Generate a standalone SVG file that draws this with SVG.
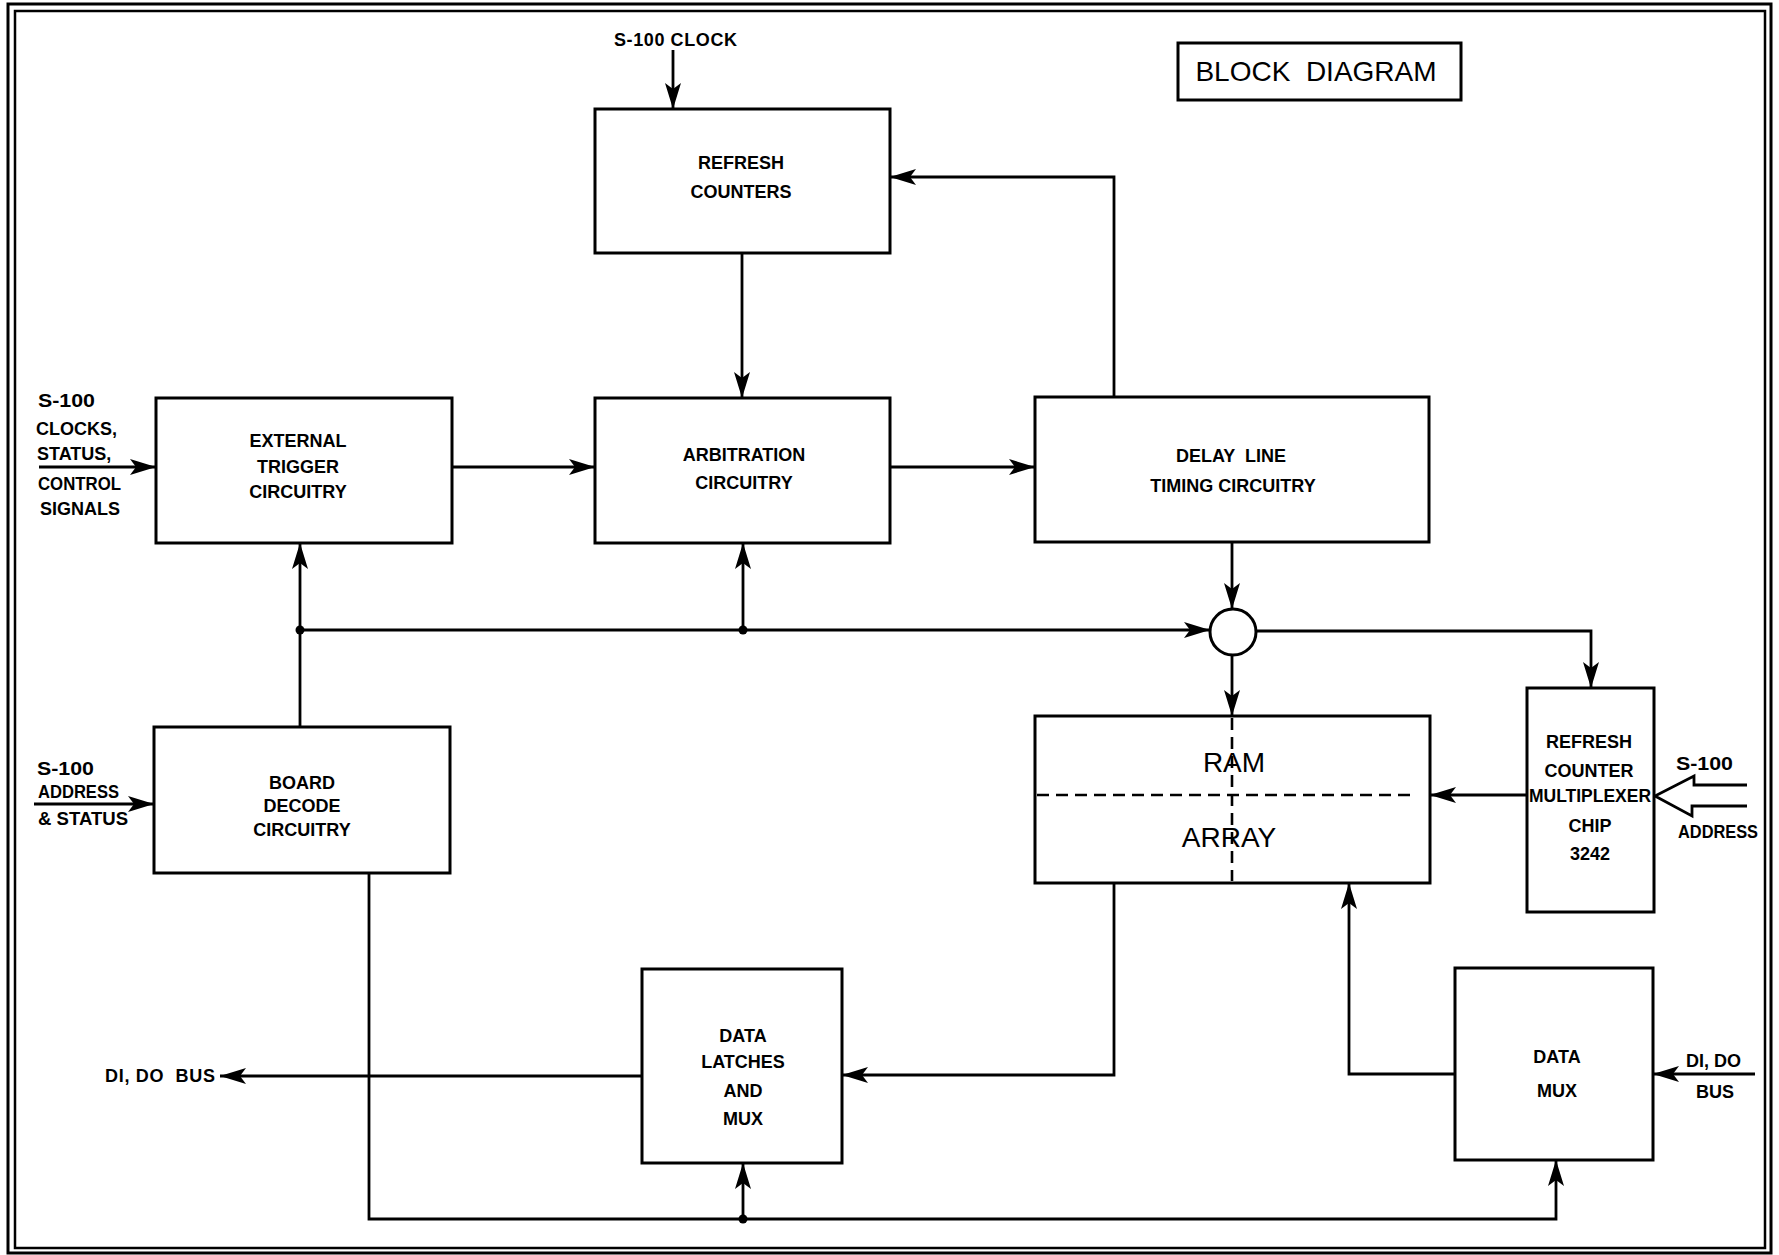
<svg xmlns="http://www.w3.org/2000/svg" width="1779" height="1255" viewBox="0 0 1779 1255">
<style>
.box{fill:#fff;stroke:#000;stroke-width:3}
.ln{fill:none;stroke:#000;stroke-width:2.8}
.arr{marker-end:url(#ah)}
.dash{fill:none;stroke:#000;stroke-width:2.6;stroke-dasharray:12 7}
.lb{font-family:"Liberation Sans",Arial,sans-serif;font-weight:bold;font-size:18px;fill:#000}
.c{text-anchor:middle}
.big{font-family:"Liberation Sans",Arial,sans-serif;font-size:28px;fill:#000}
.dot{fill:#000}
</style>
<defs>
<marker id="ah" markerUnits="userSpaceOnUse" markerWidth="28" markerHeight="20" refX="26" refY="10" orient="auto">
<path d="M0,2 L26,10 L0,18 L6,10 z" fill="#000"/>
</marker>
</defs>
<rect x="0" y="0" width="1779" height="1255" fill="#fff"/>
<g id="border">
<rect x="8" y="4" width="1763" height="1249" fill="none" stroke="#000" stroke-width="3"/>
<rect x="15" y="11" width="1750" height="1237" fill="none" stroke="#000" stroke-width="2.5"/>
</g>
<g id="title">
<rect class="box" x="1178" y="43" width="283" height="57"/>
<text class="big c" x="1316" y="81" xml:space="preserve">BLOCK  DIAGRAM</text>
</g>
<g id="connectors">
<path class="ln arr" d="M673,50 V109"/>
<path class="ln arr" d="M742,253 V398"/>
<path class="ln arr" d="M1114,397 V177 H890"/>
<path class="ln arr" d="M39,467 H156"/>
<path class="ln arr" d="M452,467 H595"/>
<path class="ln arr" d="M890,467 H1035"/>
<path class="ln arr" d="M300,727 V543"/>
<path class="ln arr" d="M300,630 H1210"/>
<path class="ln arr" d="M743,630 V543"/>
<path class="ln arr" d="M1232,542 V609"/>
<path class="ln arr" d="M1232,655 V716"/>
<path class="ln arr" d="M1256,631 H1591 V688"/>
<path class="ln arr" d="M1527,795 H1430"/>
<path class="ln arr" d="M34,804 H154"/>
<path class="ln arr" d="M369,873 V1219 H1556 V1160"/>
<path class="ln arr" d="M743,1219 V1163"/>
<path class="ln arr" d="M1114,883 V1075 H842"/>
<path class="ln arr" d="M642,1076 H220"/>
<path class="ln arr" d="M1455,1074 H1349 V883"/>
<path class="ln arr" d="M1755,1074 H1653"/>
<path class="ln" d="M1747,785 H1694 V776 L1655,796 L1692,816 V806 H1747"/>
<circle class="dot" cx="300" cy="630" r="4.5"/>
<circle class="dot" cx="743" cy="630" r="4.5"/>
<circle class="dot" cx="743" cy="1219" r="4.5"/>
</g>
<g id="refresh-counters">
<rect class="box" x="595" y="109" width="295" height="144"/>
<text class="lb c" x="741" y="169">REFRESH</text>
<text class="lb c" x="741" y="198">COUNTERS</text>
</g>
<g id="external-trigger">
<rect class="box" x="156" y="398" width="296" height="145"/>
<text class="lb c" x="298" y="447">EXTERNAL</text>
<text class="lb c" x="298" y="473">TRIGGER</text>
<text class="lb c" x="298" y="498">CIRCUITRY</text>
</g>
<g id="arbitration">
<rect class="box" x="595" y="398" width="295" height="145"/>
<text class="lb c" x="744" y="461">ARBITRATION</text>
<text class="lb c" x="744" y="489">CIRCUITRY</text>
</g>
<g id="delay-line">
<rect class="box" x="1035" y="397" width="394" height="145"/>
<text class="lb c" x="1231" y="462" xml:space="preserve">DELAY  LINE</text>
<text class="lb c" x="1233" y="492">TIMING CIRCUITRY</text>
</g>
<g id="junction">
<circle cx="1233" cy="632" r="23" fill="#fff" stroke="#000" stroke-width="3"/>
</g>
<g id="board-decode">
<rect class="box" x="154" y="727" width="296" height="146"/>
<text class="lb c" x="302" y="789">BOARD</text>
<text class="lb c" x="302" y="812">DECODE</text>
<text class="lb c" x="302" y="836">CIRCUITRY</text>
</g>
<g id="ram-array">
<rect class="box" x="1035" y="716" width="395" height="167"/>
<path class="dash" d="M1037,795 H1410"/>
<path class="dash" d="M1232,718 V881"/>
<text class="big c" x="1234" y="772">RAM</text>
<text class="big c" x="1229" y="847">ARRAY</text>
</g>
<g id="refresh-mux">
<rect class="box" x="1527" y="688" width="127" height="224"/>
<text class="lb c" x="1589" y="748">REFRESH</text>
<text class="lb c" x="1589" y="777">COUNTER</text>
<text class="lb c" x="1590" y="802" textLength="122" lengthAdjust="spacingAndGlyphs">MULTIPLEXER</text>
<text class="lb c" x="1590" y="832">CHIP</text>
<text class="lb c" x="1590" y="860">3242</text>
</g>
<g id="data-latches">
<rect class="box" x="642" y="969" width="200" height="194"/>
<text class="lb c" x="743" y="1042">DATA</text>
<text class="lb c" x="743" y="1068">LATCHES</text>
<text class="lb c" x="743" y="1097">AND</text>
<text class="lb c" x="743" y="1125">MUX</text>
</g>
<g id="data-mux">
<rect class="box" x="1455" y="968" width="198" height="192"/>
<text class="lb c" x="1557" y="1063">DATA</text>
<text class="lb c" x="1557" y="1097">MUX</text>
</g>
<g id="labels">
<text class="lb" x="38" y="407" textLength="57" lengthAdjust="spacingAndGlyphs">S-100</text>
<text class="lb" x="36" y="435">CLOCKS,</text>
<text class="lb" x="37" y="460">STATUS,</text>
<text class="lb" x="38" y="490" textLength="83" lengthAdjust="spacingAndGlyphs">CONTROL</text>
<text class="lb" x="40" y="515">SIGNALS</text>
<text class="lb" x="37" y="775" textLength="57" lengthAdjust="spacingAndGlyphs">S-100</text>
<text class="lb" x="38" y="798" textLength="81" lengthAdjust="spacingAndGlyphs">ADDRESS</text>
<text class="lb" x="38" y="825" textLength="90" lengthAdjust="spacingAndGlyphs">&amp; STATUS</text>
<text class="lb" x="105" y="1082" textLength="110" lengthAdjust="spacing" xml:space="preserve">DI, DO  BUS</text>
<text class="lb" x="614" y="46" textLength="123" lengthAdjust="spacing">S-100 CLOCK</text>
<text class="lb" x="1676" y="770" textLength="57" lengthAdjust="spacingAndGlyphs">S-100</text>
<text class="lb" x="1678" y="838" textLength="80" lengthAdjust="spacingAndGlyphs">ADDRESS</text>
<text class="lb" x="1686" y="1067">DI, DO</text>
<text class="lb" x="1696" y="1098">BUS</text>
</g>
</svg>
